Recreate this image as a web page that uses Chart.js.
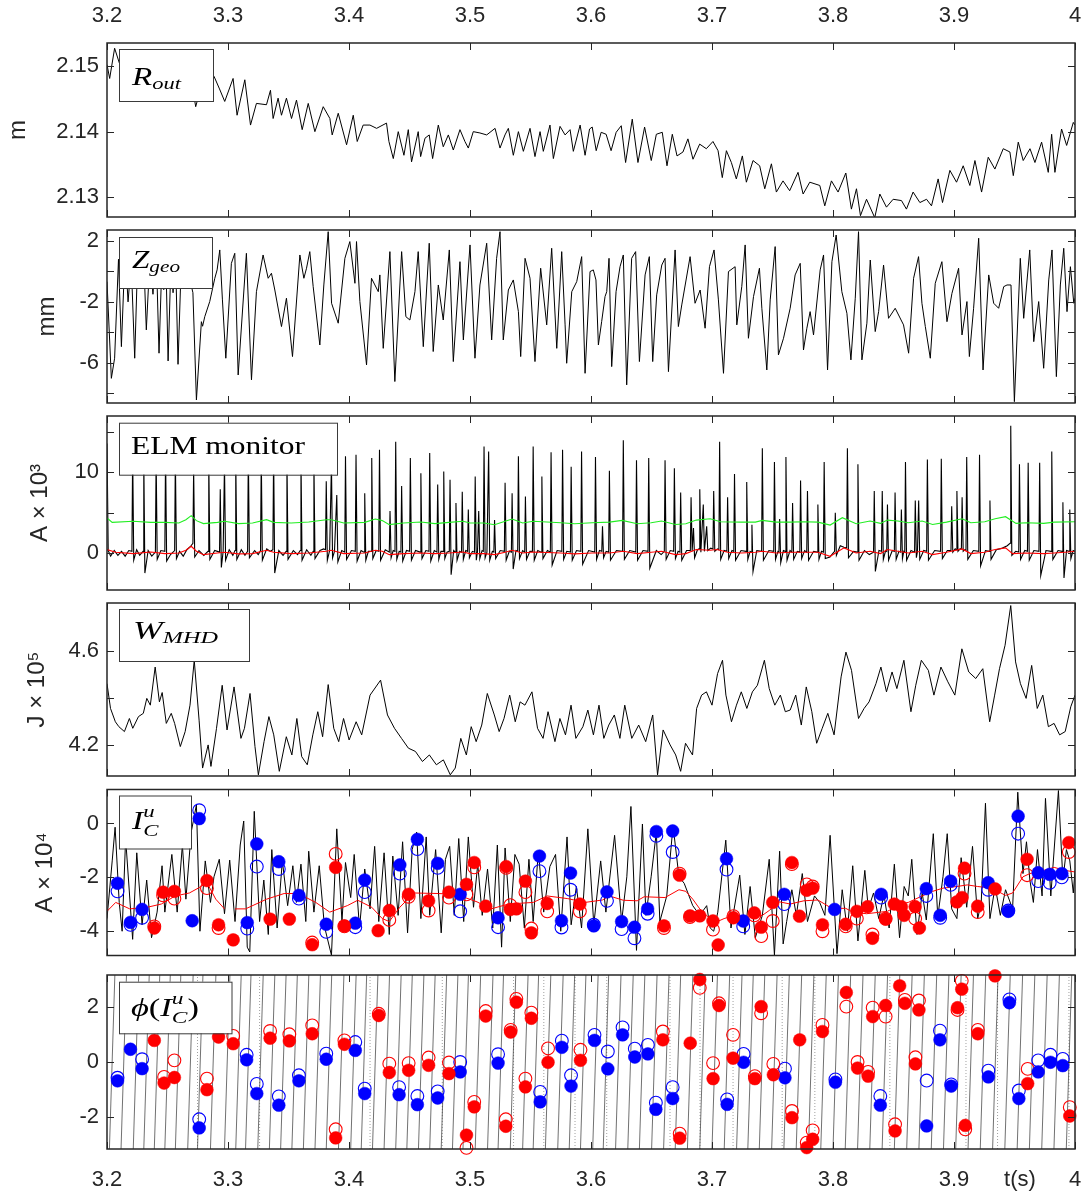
<!DOCTYPE html>
<html><head><meta charset="utf-8">
<script src="https://cdn.jsdelivr.net/npm/chart.js@4"></script>
<style>
body{margin:0;background:#fff;width:1090px;height:1203px;position:relative;overflow:hidden}
canvas{position:absolute;left:0}
</style></head><body>
<canvas id="c1" width="1090" height="218" style="top:0px"></canvas>
<canvas id="c2" width="1090" height="175" style="top:229px"></canvas>
<canvas id="c3" width="1090" height="176" style="top:415px"></canvas>
<canvas id="c4" width="1090" height="175" style="top:602px"></canvas>
<canvas id="c5" width="1090" height="181" style="top:782px"></canvas>
<canvas id="c6" width="1090" height="241" style="top:962px"></canvas>
<script>
// ---------- DATA (time in s) ----------
const xTicks = [3.2,3.3,3.4,3.5,3.6,3.7,3.8,3.9,4.0];

// R_out [t, m]
const rout = [3.2000,2.1502, 3.2022,2.1481, 3.2063,2.1527, 3.2110,2.1500, 3.2160,2.1470, 3.2210,2.1495, 3.2260,2.1465, 3.2310,2.1490, 3.2360,2.1468, 3.2410,2.1492, 3.2460,2.1462, 3.2510,2.1488, 3.2560,2.1458, 3.2610,2.1482, 3.2660,2.1455, 3.2700,2.1475, 3.2733,2.1438, 3.2780,2.1470, 3.2830,2.1455, 3.2885,2.1484, 3.2930,2.1465, 3.2973,2.1446, 3.3042,2.1481, 3.3075,2.1425, 3.3139,2.1479, 3.3186,2.1410, 3.3235,2.1443, 3.3318,2.1441, 3.3351,2.1463, 3.3373,2.1420, 3.3414,2.1451, 3.3442,2.1425, 3.3483,2.1451, 3.3525,2.1420, 3.3566,2.1448, 3.3613,2.1403, 3.3663,2.1443, 3.3718,2.1400, 3.3787,2.1438, 3.3842,2.1420, 3.3861,2.1395, 3.3911,2.1428, 3.3980,2.1380, 3.4035,2.1425, 3.4068,2.1385, 3.4117,2.1410, 3.4173,2.1410, 3.4228,2.1405, 3.4310,2.1413, 3.4330,2.1385, 3.4366,2.1359, 3.4407,2.1400, 3.4454,2.1364, 3.4490,2.1403, 3.4517,2.1354, 3.4572,2.1400, 3.4592,2.1362, 3.4628,2.1390, 3.4663,2.1395, 3.4691,2.1359, 3.4738,2.1410, 3.4779,2.1377, 3.4821,2.1395, 3.4862,2.1372, 3.4917,2.1403, 3.4958,2.1385, 3.4986,2.1375, 3.5027,2.1400, 3.5082,2.1398, 3.5138,2.1395, 3.5207,2.1405, 3.5248,2.1375, 3.5289,2.1395, 3.5317,2.1405, 3.5358,2.1364, 3.5400,2.1400, 3.5441,2.1370, 3.5496,2.1405, 3.5537,2.1362, 3.5579,2.1400, 3.5606,2.1370, 3.5661,2.1410, 3.5689,2.1359, 3.5744,2.1408, 3.5786,2.1395, 3.5827,2.1403, 3.5854,2.1370, 3.5910,2.1410, 3.5951,2.1364, 3.5988,2.1404, 3.6010,2.1407, 3.6043,2.1371, 3.6084,2.1399, 3.6125,2.1396, 3.6166,2.1371, 3.6208,2.1399, 3.6250,2.1409, 3.6286,2.1353, 3.6341,2.1419, 3.6388,2.1353, 3.6443,2.1407, 3.6498,2.1356, 3.6540,2.1396, 3.6589,2.1399, 3.6628,2.1348, 3.6672,2.1396, 3.6711,2.1363, 3.6760,2.1369, 3.6801,2.1389, 3.6843,2.1358, 3.6898,2.1381, 3.6953,2.1374, 3.7008,2.1385, 3.7050,2.1371, 3.7085,2.1330, 3.7119,2.1371, 3.7160,2.1353, 3.7201,2.1328, 3.7251,2.1363, 3.7284,2.1323, 3.7339,2.1356, 3.7394,2.1348, 3.7436,2.1313, 3.7491,2.1351, 3.7532,2.1308, 3.7587,2.1325, 3.7642,2.1310, 3.7711,2.1338, 3.7753,2.1305, 3.7808,2.1323, 3.7891,2.1318, 3.7932,2.1287, 3.7987,2.1325, 3.8042,2.1308, 3.8106,2.1337, 3.8152,2.1282, 3.8194,2.1313, 3.8227,2.1272, 3.8277,2.1297, 3.8345,2.1269, 3.8387,2.1305, 3.8442,2.1285, 3.8497,2.1297, 3.8566,2.1295, 3.8607,2.1282, 3.8662,2.1308, 3.8718,2.1292, 3.8773,2.1297, 3.8814,2.1287, 3.8869,2.1328, 3.8905,2.1292, 3.8966,2.1341, 3.9021,2.1323, 3.9076,2.1348, 3.9131,2.1318, 3.9173,2.1356, 3.9228,2.1308, 3.9283,2.1361, 3.9338,2.1343, 3.9407,2.1374, 3.9462,2.1369, 3.9490,2.1333, 3.9531,2.1384, 3.9572,2.1356, 3.9628,2.1374, 3.9669,2.1353, 3.9724,2.1384, 3.9779,2.1338, 3.9807,2.1396, 3.9834,2.1338, 3.9889,2.1404, 3.9931,2.1379, 3.9986,2.1414, 4.0000,2.1410];

// Z_geo [t, mm]
const zgeo = [3.2000,-0.67, 3.2036,-7.02, 3.2063,-5.70, 3.2095,0.8, 3.2119,-4.94, 3.2150,1.5, 3.2174,-2.0, 3.2200,0.6, 3.2229,-5.70, 3.2255,1.2, 3.2276,-1.0, 3.2300,1.6, 3.2325,-3.84, 3.2355,1.0, 3.2380,-1.5, 3.2405,1.8, 3.2430,-5.37, 3.2455,0.9, 3.2469,-1.2, 3.2485,1.3, 3.2505,-5.88, 3.2530,1.0, 3.2546,-1.4, 3.2565,1.5, 3.2587,-6.10, 3.2615,0.9, 3.2634,-0.9, 3.2660,1.2, 3.2684,-0.5, 3.2710,-1.4, 3.2739,-8.44, 3.2780,-3.30, 3.2790,-3.6, 3.2808,-2.97, 3.2849,-1.98, 3.2891,-0.45, 3.2910,0.10, 3.2932,1.41, 3.2954,-1.87, 3.2982,-5.70, 3.3028,0.53, 3.3056,1.19, 3.3084,-6.80, 3.3152,1.19, 3.3194,-7.12, 3.3235,-1.33, 3.3290,1.08, 3.3332,-0.45, 3.3359,-0.12, 3.3387,-1.22, 3.3442,-3.62, 3.3483,-1.76, 3.3533,-5.59, 3.3594,1.08, 3.3627,-0.45, 3.3649,0.21, 3.3676,1.30, 3.3704,-1.00, 3.3759,-4.83, 3.3792,-0.89, 3.3828,2.61, 3.3856,-2.09, 3.3911,-3.40, 3.3966,0.86, 3.4007,1.96, 3.4049,-0.78, 3.4062,1.96, 3.4090,-1.98, 3.4145,-6.14, 3.4186,-0.45, 3.4214,-0.89, 3.4242,-1.33, 3.4255,-0.23, 3.4283,-5.05, 3.4338,1.30, 3.4379,-7.23, 3.4435,1.30, 3.4470,-2.97, 3.4503,-3.19, 3.4545,-1.33, 3.4572,1.30, 3.4614,-4.94, 3.4663,1.85, 3.4696,-5.26, 3.4738,-0.89, 3.4779,-3.19, 3.4829,1.41, 3.4862,-5.92, 3.4917,0.64, 3.4945,-4.50, 3.5000,1.74, 3.5041,-5.70, 3.5082,-0.89, 3.5138,1.85, 3.5179,-4.50, 3.5220,0.86, 3.5248,2.61, 3.5275,-4.50, 3.5317,-1.22, 3.5358,-0.56, 3.5400,-2.64, 3.5419,-5.59, 3.5455,0.86, 3.5496,-0.45, 3.5537,-5.92, 3.5584,0.21, 3.5634,-3.51, 3.5675,1.52, 3.5717,-5.05, 3.5758,1.30, 3.5786,-3.51, 3.5799,-6.03, 3.5841,-1.33, 3.5882,-0.67, 3.5923,0.97, 3.5951,-6.69, 3.5992,-0.01, 3.6019,0.10, 3.6041,-0.56, 3.6061,-4.83, 3.6088,-3.30, 3.6116,-1.65, 3.6130,-1.33, 3.6149,0.86, 3.6171,-6.25, 3.6207,-1.33, 3.6240,0.31, 3.6267,1.08, 3.6295,-7.45, 3.6336,0.86, 3.6369,1.30, 3.6400,-5.92, 3.6447,-0.23, 3.6482,0.97, 3.6510,-5.92, 3.6543,-1.54, 3.6585,0.42, 3.6612,0.86, 3.6640,-6.58, 3.6695,1.41, 3.6722,-3.62, 3.6750,-2.20, 3.6819,0.97, 3.6860,-2.09, 3.6902,-1.22, 3.6943,-3.73, 3.6979,0.31, 3.7017,1.41, 3.7053,-1.87, 3.7095,-6.69, 3.7136,-0.01, 3.7191,0.31, 3.7205,-3.51, 3.7246,-1.00, 3.7274,1.74, 3.7301,-4.39, 3.7343,-1.65, 3.7392,0.21, 3.7412,-2.42, 3.7453,-6.47, 3.7481,-1.87, 3.7522,1.63, 3.7549,-5.48, 3.7591,-4.39, 3.7646,-2.42, 3.7687,-0.23, 3.7729,0.53, 3.7756,-5.16, 3.7784,-3.73, 3.7811,-2.64, 3.7839,-4.17, 3.7894,0.10, 3.7922,1.08, 3.7955,-6.47, 3.7991,0.64, 3.8026,2.39, 3.8073,-1.33, 3.8115,-2.75, 3.8148,-5.81, 3.8184,-1.76, 3.8211,2.61, 3.8239,-5.81, 3.8280,-3.40, 3.8308,0.75, 3.8349,-3.95, 3.8377,-2.64, 3.8418,0.42, 3.8459,-3.08, 3.8514,-2.42, 3.8583,-3.51, 3.8625,-5.37, 3.8666,-0.45, 3.8707,0.97, 3.8735,-2.09, 3.8763,-3.62, 3.8804,-5.70, 3.8845,-0.78, 3.8900,0.64, 3.8942,-3.30, 3.8983,-1.44, 3.9038,0.21, 3.9066,-4.17, 3.9107,-1.98, 3.9127,-5.59, 3.9162,-2.42, 3.9204,2.18, 3.9240,-6.47, 3.9287,-0.23, 3.9328,-2.09, 3.9369,-2.42, 3.9411,-1.00, 3.9438,-0.89, 3.9471,-0.89, 3.9499,-8.55, 3.9548,0.86, 3.9576,-3.08, 3.9626,1.41, 3.9659,-4.61, 3.9700,-1.98, 3.9741,-6.36, 3.9783,-0.56, 3.9810,1.41, 3.9846,-6.91, 3.9879,-0.89, 3.9907,1.52, 3.9934,-2.64, 3.9962,0.31, 3.9990,-2.09, 4.0000,-1.76];

// ELM monitor (black) [t, A x1e3]
const elmSignal = [3.2000,13.6, 3.2010,0.3, 3.2030,-0.4, 3.2060,0.3, 3.2090,-0.3, 3.2120,0.2, 3.2150,-0.4, 3.2180,0.3,
3.2206,0.2, 3.2212,12.5, 3.2221,-0.9, 3.2245,0.4, 3.2270,-0.3, 3.2298,0.2, 3.2304,12.0, 3.2313,-2.5, 3.2340,0.3, 3.2370,-0.4,
3.2400,0.1, 3.2406,12.0, 3.2415,-0.8, 3.2445,0.3, 3.2478,0.2, 3.2484,12.5, 3.2493,-1.0, 3.2525,-0.2,
3.2559,0.3, 3.2565,12.0, 3.2574,-0.7, 3.2600,0.2, 3.2630,-0.4, 3.2660,0.4, 3.2690,0.8,
3.2710,1.2, 3.2716,10.4, 3.2725,-0.5, 3.2760,0.3, 3.2800,-0.3, 3.2835,0.2, 3.2841,12.0, 3.2850,-0.8, 3.2890,0.3,
3.2930,0.1, 3.2936,7.9, 3.2945,-1.8, 3.2960,0.2, 3.2971,11.0, 3.2980,-0.9, 3.3010,0.4, 3.3040,-0.3,
3.3058,0.3, 3.3064,12.0, 3.3073,-0.8, 3.3110,0.4, 3.3140,-0.3, 3.3162,0.2, 3.3168,12.5, 3.3177,-0.6, 3.3220,0.3, 3.3250,-0.2,
3.3269,0.3, 3.3275,12.0, 3.3284,-0.9, 3.3320,0.5, 3.3350,0.2, 3.3371,0.4, 3.3377,12.5, 3.3386,-2.5, 3.3420,0.3, 3.3455,-0.3,
3.3481,0.2, 3.3487,12.0, 3.3496,-0.8, 3.3540,0.3, 3.3575,-0.2, 3.3597,0.3, 3.3603,12.0, 3.3612,-0.9, 3.3650,0.4, 3.3685,-0.3,
3.3704,0.2, 3.3710,11.5, 3.3719,-0.7, 3.3760,0.3, 3.3790,0.5, 3.3806,0.4, 3.3812,8.9, 3.3821,-0.9, 3.3840,0.3, 3.3855,11.0, 3.3864,-0.6, 3.3880,0.2, 3.3899,7.2, 3.3908,-1.1, 3.3940,0.3,
3.3965,0.1, 3.3971,12.0, 3.3980,-0.8, 3.4020,0.3, 3.4052,0.2, 3.4058,12.2, 3.4067,-1.0, 3.4100,0.3,
3.4124,0.1, 3.4130,7.4, 3.4139,-0.9, 3.4160,0.2, 3.4182,0.2, 3.4188,11.8, 3.4197,-0.7, 3.4225,0.3,
3.4246,0.2, 3.4252,12.8, 3.4261,-0.9, 3.4300,0.4, 3.4333,0.1, 3.4339,5.2, 3.4348,-0.6, 3.4365,0.3,
3.4380,0.2, 3.4386,13.8, 3.4395,-0.8, 3.4415,0.2, 3.4429,0.1, 3.4435,8.3, 3.4444,-1.0, 3.4475,0.3,
3.4501,0.2, 3.4507,11.8, 3.4516,-0.9, 3.4550,0.3, 3.4588,0.1, 3.4594,9.9, 3.4603,-0.7, 3.4635,0.3,
3.4661,0.2, 3.4667,12.4, 3.4676,-1.0, 3.4705,0.3, 3.4727,0.1, 3.4733,8.5, 3.4742,-0.8, 3.4760,0.2,
3.4777,0.2, 3.4783,10.1, 3.4792,-0.7, 3.4810,0.1, 3.4829,0.2, 3.4835,9.1, 3.4844,-2.7, 3.4865,0.3,
3.4878,0.1, 3.4884,6.2, 3.4893,-0.9, 3.4915,0.2, 3.4930,0.1, 3.4936,7.6, 3.4945,-0.8, 3.4965,0.3,
3.4980,0.2, 3.4986,5.4, 3.4995,-0.6, 3.5020,0.2, 3.5037,0.1, 3.5043,9.5, 3.5052,-0.9, 3.5062,0.2, 3.5072,5.2, 3.5081,-0.7, 3.5100,0.3,
3.5110,0.2, 3.5116,13.2, 3.5125,-0.6, 3.5140,0.1, 3.5154,12.6, 3.5163,-0.9, 3.5185,0.2,
3.5197,0.1, 3.5203,4.1, 3.5212,-0.7, 3.5250,0.3, 3.5284,0.2, 3.5290,8.7, 3.5299,-0.9, 3.5325,0.2,
3.5342,0.1, 3.5348,7.4, 3.5357,-2.0, 3.5380,0.3, 3.5394,0.2, 3.5400,12.0, 3.5409,-0.7, 3.5435,0.3,
3.5452,0.1, 3.5458,7.0, 3.5467,-0.8, 3.5495,0.2, 3.5516,0.2, 3.5522,13.2, 3.5531,-0.9, 3.5560,0.3,
3.5588,0.1, 3.5594,9.5, 3.5603,-0.7, 3.5640,0.3, 3.5664,0.1, 3.5670,12.5, 3.5679,-1.5, 3.5720,0.3,
3.5759,0.2, 3.5765,12.8, 3.5774,-0.8, 3.5800,0.2, 3.5830,0.1, 3.5836,10.7, 3.5845,-0.9, 3.5880,0.3,
3.5916,0.2, 3.5922,12.6, 3.5931,-1.4, 3.5980,0.3, 3.6031,0.1, 3.6037,11.9, 3.6046,-0.8, 3.6070,0.3,
3.6089,0.2, 3.6095,3.3, 3.6104,-0.6, 3.6125,0.2, 3.6146,0.1, 3.6152,10.2, 3.6161,-0.9, 3.6210,0.3,
3.6261,0.2, 3.6267,14.0, 3.6276,-0.8, 3.6320,0.3, 3.6370,0.1, 3.6376,11.5, 3.6385,-0.9, 3.6430,0.3,
3.6471,0.2, 3.6477,11.8, 3.6486,-1.9, 3.6540,0.3, 3.6580,-0.2, 3.6606,0.2, 3.6612,11.5, 3.6621,-0.8, 3.6655,0.3,
3.6683,0.2, 3.6689,10.5, 3.6698,-0.7, 3.6720,0.2, 3.6735,0.1, 3.6741,7.5, 3.6750,-0.9, 3.6790,0.3,
3.6821,0.3, 3.6827,6.9, 3.6836,0.2, 3.6847,3.1, 3.6856,-0.6, 3.6880,0.4,
3.6893,0.5, 3.6899,7.9, 3.6908,0.1, 3.6928,6.0, 3.6937,0.2, 3.6956,3.3, 3.6965,0.3, 3.6990,0.6,
3.7008,0.5, 3.7014,7.7, 3.7023,0.2, 3.7045,0.5, 3.7057,0.4, 3.7063,13.8, 3.7072,-0.8, 3.7100,0.3,
3.7123,0.2, 3.7129,6.9, 3.7138,-0.7, 3.7165,0.3, 3.7180,0.2, 3.7186,9.8, 3.7195,-0.9, 3.7240,0.3,
3.7281,0.2, 3.7287,8.8, 3.7296,-0.8, 3.7315,0.2, 3.7324,0.1, 3.7330,3.5, 3.7339,-2.3, 3.7370,0.3,
3.7410,0.2, 3.7416,13.0, 3.7425,-0.9, 3.7470,0.3, 3.7510,0.2, 3.7516,11.3, 3.7525,-0.8, 3.7545,0.2,
3.7553,0.1, 3.7559,4.2, 3.7568,-1.2, 3.7590,0.3, 3.7605,0.2, 3.7611,11.9, 3.7620,-0.9, 3.7645,0.3,
3.7660,0.1, 3.7666,6.2, 3.7675,-0.8, 3.7705,0.2, 3.7726,0.1, 3.7732,9.0, 3.7741,-0.7, 3.7765,0.3,
3.7783,0.1, 3.7789,7.7, 3.7798,-0.9, 3.7840,0.2, 3.7869,0.1, 3.7875,6.0, 3.7884,-0.8, 3.7905,0.2,
3.7921,0.1, 3.7927,11.3, 3.7936,-0.7, 3.7975,-0.5, 3.8013,0.2, 3.8019,5.0, 3.8028,-0.3, 3.8060,0.9, 3.8090,0.7,
3.8113,0.6, 3.8119,13.0, 3.8128,-0.6, 3.8170,0.2, 3.8200,0.1, 3.8206,11.0, 3.8215,-0.9, 3.8260,0.3, 3.8300,-0.2,
3.8335,0.1, 3.8341,7.7, 3.8350,-2.3, 3.8380,0.3, 3.8401,0.2, 3.8407,7.7, 3.8416,-0.8, 3.8435,0.3,
3.8444,0.2, 3.8450,6.0, 3.8459,-0.9, 3.8490,0.3, 3.8507,0.2, 3.8513,7.5, 3.8522,-0.8, 3.8545,0.2,
3.8559,0.1, 3.8565,5.4, 3.8574,-0.7, 3.8585,0.2, 3.8593,0.1, 3.8599,11.3, 3.8608,-0.9, 3.8645,0.3,
3.8674,0.1, 3.8680,6.5, 3.8689,-0.6, 3.8698,0.2, 3.8708,6.5, 3.8717,-0.8, 3.8750,0.3,
3.8774,0.2, 3.8780,11.6, 3.8789,-0.9, 3.8840,0.3, 3.8889,0.2, 3.8895,11.7, 3.8904,-0.7, 3.8945,0.3,
3.8975,0.3, 3.8981,5.8, 3.8990,0.1, 3.9010,0.5, 3.9018,0.4, 3.9024,7.7, 3.9033,0.2, 3.9050,0.5,
3.9061,0.5, 3.9067,6.9, 3.9076,0.2, 3.9090,0.4, 3.9099,0.3, 3.9105,11.9, 3.9114,-0.8, 3.9160,0.3,
3.9205,0.2, 3.9211,12.2, 3.9220,-1.6, 3.9260,0.3, 3.9291,0.2, 3.9297,6.5, 3.9306,-0.8, 3.9350,0.4, 3.9400,0.6, 3.9440,0.9,
3.9463,1.2, 3.9469,15.8, 3.9478,-0.3, 3.9510,0.2, 3.9535,0.1, 3.9541,11.0, 3.9550,-0.8, 3.9585,0.3,
3.9607,0.2, 3.9613,11.2, 3.9622,-0.9, 3.9660,0.3, 3.9702,0.2, 3.9708,11.2, 3.9717,-2.8, 3.9760,0.3,
3.9802,0.2, 3.9808,12.6, 3.9817,-0.8, 3.9860,0.3, 3.9894,0.2, 3.9900,6.3, 3.9909,-3.1, 3.9930,0.3,
3.9951,0.2, 3.9957,5.4, 3.9966,-0.7, 3.9985,0.3, 4.0000,0.2];

// ELM red (smoothed) and green (threshold) lines
const elmRed = [3.2000,0.41, 3.2072,0.08, 3.2217,-0.08, 3.2362,0.12, 3.2478,-0.08, 3.2594,0.0, 3.2652,0.33, 3.2696,0.83, 3.2739,0.21, 3.2797,-0.21, 3.2913,0.0, 3.2971,0.08, 3.3087,-0.12, 3.3203,-0.08, 3.3319,0.33, 3.3377,0.08, 3.3522,-0.08, 3.3667,0.0, 3.3812,0.21, 3.3855,0.33, 3.3957,-0.08, 3.4130,0.0, 3.4217,0.33, 3.4275,0.21, 3.4333,-0.21, 3.4449,-0.08, 3.4594,0.0, 3.4710,-0.08, 3.4826,0.0, 3.4942,0.12, 3.5000,-0.08, 3.5116,-0.08, 3.5203,-0.21, 3.5290,0.08, 3.5348,0.33, 3.5435,0.0, 3.5522,0.12, 3.5750,0.0, 3.5865,-0.12, 3.6009,0.0, 3.6152,0.0, 3.6267,0.21, 3.6382,-0.08, 3.6497,0.08, 3.6583,0.21, 3.6698,-0.21, 3.6784,-0.08, 3.6870,0.42, 3.6985,0.33, 3.7042,0.42, 3.7129,0.08, 3.7244,0.0, 3.7358,0.08, 3.7416,0.21, 3.7531,0.0, 3.7646,0.08, 3.7760,0.08, 3.7875,0.08, 3.7976,-0.42, 3.8091,0.63, 3.8191,0.0, 3.8306,0.21, 3.8392,-0.08, 3.8450,0.42, 3.8536,0.21, 3.8622,0.0, 3.8737,0.21, 3.8823,-0.21, 3.8938,0.08, 3.9067,0.5, 3.9139,-0.08, 3.9254,0.08, 3.9340,0.42, 3.9426,0.63, 3.9484,-0.08, 3.9598,0.0, 3.9742,-0.08, 3.9828,0.0, 3.9943,0.12, 4.0000,0.21];
const elmGreen = [3.2000,4.34, 3.2043,3.80, 3.2217,3.93, 3.2362,3.80, 3.2478,3.80, 3.2594,3.72, 3.2652,4.13, 3.2696,4.63, 3.2739,4.01, 3.2797,3.64, 3.2913,3.80, 3.2971,3.93, 3.3087,3.64, 3.3203,3.72, 3.3319,4.13, 3.3377,3.80, 3.3522,3.72, 3.3667,3.84, 3.3812,4.13, 3.3855,4.13, 3.3957,3.72, 3.4130,3.80, 3.4217,4.21, 3.4275,4.01, 3.4333,3.51, 3.4449,3.72, 3.4594,3.84, 3.4710,3.64, 3.4826,3.80, 3.4942,3.93, 3.5000,3.72, 3.5116,3.72, 3.5203,3.51, 3.5290,3.93, 3.5348,4.21, 3.5435,3.72, 3.5522,3.93, 3.5750,3.75, 3.5865,3.63, 3.6009,3.75, 3.6152,3.83, 3.6257,4.04, 3.6382,3.63, 3.6497,3.75, 3.6583,3.96, 3.6698,3.54, 3.6784,3.63, 3.6870,4.08, 3.6985,4.25, 3.7071,3.88, 3.7244,3.83, 3.7358,3.83, 3.7416,4.04, 3.7531,3.83, 3.7646,3.83, 3.7760,3.88, 3.7875,3.83, 3.7976,3.46, 3.8077,4.38, 3.8191,3.63, 3.8306,3.96, 3.8392,3.67, 3.8450,4.08, 3.8536,3.96, 3.8622,3.75, 3.8737,3.96, 3.8823,3.54, 3.8938,3.83, 3.9067,4.25, 3.9139,3.75, 3.9254,3.88, 3.9340,4.25, 3.9426,4.50, 3.9513,3.67, 3.9598,3.75, 3.9742,3.67, 3.9828,3.83, 4.0000,3.88];

// W_MHD [t, J x1e5]
const wmhd = [3.2000,4.462, 3.2029,4.356, 3.2069,4.299, 3.2098,4.278, 3.2144,4.257, 3.2185,4.313, 3.2213,4.271, 3.2260,4.321, 3.2300,4.335, 3.2329,4.399, 3.2358,4.370, 3.2398,4.533, 3.2433,4.384, 3.2456,4.424, 3.2490,4.292, 3.2531,4.335, 3.2559,4.292, 3.2606,4.193, 3.2646,4.257, 3.2686,4.370, 3.2721,4.562, 3.2761,4.306, 3.2790,4.101, 3.2836,4.200, 3.2859,4.108, 3.2905,4.271, 3.2952,4.455, 3.2992,4.264, 3.3050,4.448, 3.3107,4.228, 3.3136,4.271, 3.3182,4.420, 3.3223,4.193, 3.3251,4.072, 3.3298,4.214, 3.3338,4.321, 3.3378,4.243, 3.3424,4.087, 3.3482,4.235, 3.3528,4.157, 3.3569,4.313, 3.3609,4.150, 3.3655,4.115, 3.3701,4.243, 3.3742,4.342, 3.3782,4.235, 3.3828,4.458, 3.3874,4.271, 3.3915,4.214, 3.3955,4.313, 3.4001,4.221, 3.4059,4.299, 3.4105,4.243, 3.4174,4.413, 3.4261,4.477, 3.4318,4.328, 3.4376,4.271, 3.4434,4.228, 3.4491,4.186, 3.4549,4.172, 3.4607,4.129, 3.4664,4.157, 3.4722,4.115, 3.4780,4.136, 3.4837,4.072, 3.4878,4.101, 3.4924,4.228, 3.4970,4.157, 3.5010,4.278, 3.5051,4.214, 3.5097,4.285, 3.5143,4.420, 3.5201,4.328, 3.5241,4.257, 3.5281,4.313, 3.5328,4.413, 3.5374,4.299, 3.5414,4.384, 3.5454,4.370, 3.5512,4.427, 3.5558,4.271, 3.5604,4.228, 3.5645,4.342, 3.5702,4.214, 3.5743,4.313, 3.5789,4.243, 3.5835,4.370, 3.5875,4.228, 3.5933,4.278, 3.5974,4.349, 3.6020,4.243, 3.6066,4.370, 3.6106,4.228, 3.6147,4.285, 3.6193,4.328, 3.6239,4.228, 3.6279,4.370, 3.6337,4.228, 3.6394,4.285, 3.6452,4.214, 3.6510,4.328, 3.6550,4.072, 3.6596,4.264, 3.6654,4.200, 3.6700,4.157, 3.6741,4.087, 3.6781,4.207, 3.6839,4.157, 3.6873,4.356, 3.6914,4.413, 3.6954,4.427, 3.7000,4.370, 3.7046,4.505, 3.7087,4.562, 3.7115,4.413, 3.7161,4.299, 3.7202,4.370, 3.7242,4.427, 3.7288,4.356, 3.7334,4.427, 3.7375,4.455, 3.7433,4.562, 3.7473,4.441, 3.7519,4.370, 3.7565,4.413, 3.7606,4.342, 3.7646,4.349, 3.7692,4.413, 3.7738,4.285, 3.7779,4.448, 3.7825,4.342, 3.7865,4.207, 3.7911,4.271, 3.7957,4.335, 3.8009,4.243, 3.8067,4.491, 3.8107,4.597, 3.8153,4.519, 3.8211,4.313, 3.8257,4.356, 3.8298,4.384, 3.8355,4.462, 3.8396,4.533, 3.8442,4.427, 3.8488,4.512, 3.8528,4.441, 3.8586,4.562, 3.8644,4.342, 3.8684,4.455, 3.8730,4.562, 3.8788,4.519, 3.8834,4.413, 3.8892,4.533, 3.8949,4.470, 3.9007,4.413, 3.9065,4.611, 3.9122,4.512, 3.9180,4.484, 3.9238,4.526, 3.9295,4.299, 3.9336,4.413, 3.9376,4.526, 3.9422,4.626, 3.9469,4.796, 3.9509,4.555, 3.9549,4.462, 3.9596,4.399, 3.9642,4.540, 3.9688,4.356, 3.9734,4.413, 3.9780,4.278, 3.9827,4.292, 3.9873,4.243, 3.9919,4.257, 3.9965,4.363, 4.0000,4.413];

// I_C^u (black) [t, A x1e4]
const icSignal = [3.2000,-3.53, 3.2043,-1.39, 3.2067,-0.14, 3.2101,-2.93, 3.2125,-4.00, 3.2154,-0.56, 3.2212,-4.30, 3.2246,-1.09, 3.2290,-3.76, 3.2328,-2.10, 3.2368,-4.24, 3.2414,-3.29, 3.2455,-1.57, 3.2478,-3.29, 3.2536,-1.15, 3.2580,-3.29, 3.2623,-0.80, 3.2652,-2.81, 3.2696,-0.32, 3.2739,0.69, 3.2768,-4.00, 3.2812,-1.39, 3.2855,-2.93, 3.2884,-1.98, 3.2928,-1.33, 3.2971,-3.35, 3.3014,-1.36, 3.3058,-3.64, 3.3101,-0.80, 3.3130,0.09, 3.3159,-4.59, 3.3180,-4.77, 3.3217,0.45, 3.3261,-3.64, 3.3296,-2.10, 3.3333,-4.12, 3.3362,-0.97, 3.3406,-3.88, 3.3449,-1.39, 3.3493,-3.05, 3.3536,-1.57, 3.3565,-2.93, 3.3603,-1.51, 3.3643,-3.64, 3.3667,-1.03, 3.3710,-3.29, 3.3754,-1.57, 3.3797,-3.82, 3.3855,-4.89, 3.3899,-0.20, 3.3942,-3.64, 3.3971,-1.45, 3.4014,-2.75, 3.4043,-1.15, 3.4087,-3.88, 3.4130,-1.69, 3.4174,-3.17, 3.4212,-0.85, 3.4246,-3.64, 3.4290,-1.09, 3.4333,-4.12, 3.4362,-1.21, 3.4406,-3.41, 3.4443,-0.68, 3.4484,-4.06, 3.4522,-0.97, 3.4559,-0.32, 3.4594,-3.53, 3.4638,-0.50, 3.4667,-3.41, 3.4716,-0.97, 3.4762,-4.06, 3.4797,-1.33, 3.4832,-0.85, 3.4870,-3.41, 3.4907,-0.56, 3.4948,-3.64, 3.4986,-0.50, 3.5029,-3.11, 3.5064,-1.51, 3.5101,-3.41, 3.5145,-1.69, 3.5188,-3.88, 3.5226,-0.80, 3.5261,-4.59, 3.5290,-0.91, 3.5333,-3.64, 3.5371,-1.15, 3.5406,-1.51, 3.5449,-3.88, 3.5487,-1.33, 3.5522,-3.64, 3.5565,-1.03, 3.5609,-3.29, 3.5660,-1.60, 3.5707,-1.15, 3.5750,-4.00, 3.5802,-0.50, 3.5836,-3.76, 3.5879,-2.34, 3.5922,-3.88, 3.5974,-0.20, 3.6023,-3.76, 3.6080,-1.39, 3.6123,-3.29, 3.6195,-0.44, 3.6253,-3.64, 3.6296,-1.98, 3.6330,0.63, 3.6376,-4.71, 3.6425,-0.02, 3.6454,-3.41, 3.6497,-1.98, 3.6540,-0.32, 3.6569,-3.64, 3.6626,-2.69, 3.6678,-0.08, 3.6727,-1.98, 3.6770,-2.22, 3.6841,-3.05, 3.6899,-3.41, 3.6956,-3.05, 3.6985,-3.88, 3.7014,-4.00, 3.7048,-3.29, 3.7114,-0.62, 3.7157,-3.88, 3.7229,-1.92, 3.7272,-4.12, 3.7315,-2.34, 3.7358,-4.24, 3.7416,-3.41, 3.7473,-1.33, 3.7516,-4.89, 3.7559,-1.03, 3.7588,-4.47, 3.7617,-3.64, 3.7660,-2.46, 3.7697,-3.41, 3.7746,-1.86, 3.7789,-3.64, 3.7847,-2.69, 3.7890,-2.93, 3.7933,-3.41, 3.7976,-0.44, 3.8033,-4.83, 3.8076,-2.46, 3.8119,-4.00, 3.8163,-1.57, 3.8206,-4.36, 3.8263,-1.74, 3.8292,-3.17, 3.8335,-2.58, 3.8378,-3.53, 3.8421,-2.64, 3.8464,-3.88, 3.8507,-1.51, 3.8550,-4.24, 3.8588,-2.34, 3.8622,-2.69, 3.8651,-1.33, 3.8694,-4.12, 3.8737,-2.58, 3.8771,-3.58, 3.8829,-0.38, 3.8866,-3.47, 3.8909,-1.98, 3.8944,-0.38, 3.8981,-3.17, 3.9024,-3.53, 3.9059,-1.27, 3.9105,-3.11, 3.9153,-0.85, 3.9196,-3.53, 3.9225,-2.93, 3.9260,0.75, 3.9297,-3.53, 3.9340,-2.34, 3.9383,-3.41, 3.9426,-2.46, 3.9484,-3.17, 3.9527,1.16, 3.9570,-1.86, 3.9599,-0.68, 3.9627,-2.10, 3.9656,-2.93, 3.9690,-0.97, 3.9728,-2.69, 3.9756,0.93, 3.9800,-2.69, 3.9863,1.22, 3.9900,-2.10, 3.9929,-0.97, 3.9957,-1.39, 3.9986,-2.58, 4.0000,-1.74];
// I_C^u red smoothed line (null = gap)
const icRedLine = [3.2000,-3.26, 3.2072,-2.93, 3.2188,-3.17, 3.2333,-3.11, 3.2449,-2.99, 3.2565,-2.69, 3.2681,-2.58, 3.2754,-2.40, 3.2826,-2.20, 3.2899,-2.81, 3.2971,-3.17, 3.3000,null, 3.3058,-3.17, 3.3145,-3.17, 3.3319,-2.81, 3.3464,-2.60, 3.3580,-2.60, 3.3725,-2.93, 3.3841,-3.29, 3.3986,-3.05, 3.4072,-2.85, 3.4188,-3.11, 3.4275,-3.53, 3.4333,-3.64, 3.4420,-3.11, 3.4536,-2.58, 3.4739,-2.60, 3.4884,-2.63, 3.5058,-2.91, 3.5174,-3.17, 3.5319,-2.99, 3.5522,-2.93, 3.5638,-2.69, 3.5808,-2.79, 3.5951,-2.93, 3.6095,-2.84, 3.6152,-2.69, 3.6267,-2.85, 3.6382,-2.87, 3.6439,-2.72, 3.6612,-2.75, 3.6727,-2.46, 3.6784,-2.52, 3.6841,-2.81, 3.6899,-3.17, 3.6956,-3.41, 3.7014,-3.70, 3.7100,-3.53, 3.7186,-3.41, 3.7301,-3.47, 3.7416,-3.41, 3.7473,-3.23, 3.7559,-2.91, 3.7646,-2.99, 3.7760,-2.87, 3.7875,-2.84, 3.7990,-3.15, 3.8105,-3.15, 3.8163,-3.29, 3.8277,-3.35, 3.8450,-3.26, 3.8565,-2.99, 3.8622,-2.93, 3.8737,-2.69, 3.8823,-2.52, 3.8909,-2.40, 3.9024,-2.34, 3.9110,-2.28, 3.9196,-2.34, 3.9311,-2.40, 3.9426,-2.67, 3.9484,-2.58, 3.9570,-1.98, 3.9627,-1.86, 3.9742,-1.74, 3.9828,-1.63, 3.9914,-1.74, 4.0000,-1.80];

// I_C^u markers (filled = measured, open = fitted)
const p5BlueT = [3.2087,3.2194,3.2290,3.2704,3.2762,3.3159,3.3238,3.3420,3.3586,3.3812,3.4052,3.4130,3.4420,3.4565,3.4733,3.4919,3.5232,3.5574,3.5756,3.5831,3.6023,3.6132,3.6253,3.6359,3.6468,3.6540,3.6675,3.7120,3.7258,3.7597,3.8013,3.8398,3.8771,3.8886,3.8972,3.9283,3.9449,3.9530,3.9696,3.9791,3.9891];
const p5BlueFilled = [-2.22,-3.67,-3.19,-3.61,0.18,-3.68,-0.76,-1.42,-2.67,-3.74,-3.70,-2.10,-1.54,-0.59,-1.48,-2.63,-3.50,-1.21,-3.61,-1.84,-3.80,-2.54,-3.64,-3.85,-3.17,-0.30,-0.28,-1.31,-3.62,-2.63,-3.19,-2.63,-2.42,-3.41,-2.14,-2.20,-3.26,0.27,-1.83,-1.89,-1.86];
const p5BlueOpen = [-2.52,-3.76,-3.50,null,0.49,-3.90,-1.60,-1.69,-2.79,-4.02,-3.85,-2.55,-1.86,-0.95,-1.65,-3.26,-3.85,-1.77,-3.86,-2.46,-3.76,-2.87,-3.92,-4.26,-3.35,-0.46,-1.06,-1.71,-3.82,-2.99,null,-2.75,-2.69,-3.50,-2.28,-2.46,-3.23,-0.38,-2.14,-2.20,-2.00];
const p5RedT = [3.2391,3.2464,3.2557,3.2826,3.2922,3.3043,3.3348,3.3507,3.3696,3.3890,3.3962,3.4241,3.4333,3.4493,3.4658,3.4826,3.4971,3.5035,3.5130,3.5299,3.5333,3.5383,3.5458,3.5507,3.5638,3.5908,3.6603,3.6732,3.6818,3.6899,3.7008,3.7051,3.7177,3.7350,3.7407,3.7502,3.7660,3.7723,3.7783,3.7832,3.7913,3.8105,3.8197,3.8286,3.8326,3.8435,3.8507,3.8565,3.8588,3.8679,3.8714,3.9024,3.9067,3.9087,3.9196,3.9340,3.9604,3.9949];
const p5RedFilled = [-3.88,-2.55,-2.52,-2.12,-3.76,-4.32,-3.55,-3.55,-4.50,-1.63,-3.80,-3.98,-3.23,-2.63,-2.87,-2.55,-2.26,-1.45,-3.07,-1.60,-3.19,-3.17,-2.14,-4.06,-2.97,-2.99,-3.80,-1.92,-3.43,-3.43,-3.62,-4.51,-3.50,-3.32,-3.85,-2.93,-1.45,-3.44,-2.48,-2.40,-3.76,-3.74,-3.26,-3.09,-4.26,-3.55,-2.99,-3.09,-3.41,-3.09,-3.88,-2.91,-2.75,-1.66,-3.07,-2.43,-1.33,-0.71];
const p5RedOpen = [-3.82,-2.67,-2.79,-2.40,-3.88,null,null,null,-4.42,-1.13,-3.82,null,-3.58,-2.72,-3.23,-2.75,-2.63,-1.63,null,-1.65,-3.03,null,-2.55,-3.90,-3.26,-3.26,-3.88,-1.86,-3.47,null,-3.94,null,-3.44,-3.41,-4.18,-3.62,-1.51,null,-2.26,-2.34,-4.00,-3.82,-3.53,null,-4.12,-3.53,null,null,null,-3.53,null,null,null,-1.86,-3.29,null,-1.92,-1.06];

// phase of I_C^u markers
const p6BlueT = [3.2087,3.2194,3.2290,3.2762,3.3154,3.3238,3.3420,3.3586,3.3812,3.4052,3.4130,3.4414,3.4565,3.4733,3.4919,3.5232,3.5580,3.5759,3.5835,3.6029,3.6139,3.6261,3.6362,3.6470,3.6536,3.6675,3.7125,3.7261,3.7603,3.8020,3.8391,3.8774,3.8884,3.8977,3.9284,3.9458,3.9536,3.9696,3.9797,3.9899];
const p6BlueFilled = [-0.68,0.46,-0.24,-2.38,0.08,-1.14,-1.56,-0.68,0.10,0.42,-1.14,-1.18,-1.54,-1.30,-0.36,-0.04,-1.44,0.53,-0.87,0.78,-0.25,0.98,0.18,0.29,-1.71,-1.32,-1.53,-0.01,-0.57,-0.73,-1.56,-2.31,0.80,-0.87,-0.54,2.14,-1.32,-0.36,-0.01,-0.13];
const p6BlueOpen = [-0.57,null,0.10,-2.07,0.26,-0.79,-1.24,-0.48,0.30,0.72,-0.96,-0.91,-1.23,-1.06,0.00,0.28,-1.08,0.77,-0.48,0.98,0.38,1.25,0.48,0.62,-1.47,-0.91,-1.35,0.29,-0.24,-0.63,-1.23,-0.67,1.13,-0.81,-0.31,2.26,-1.03,0.06,0.26,0.11];
const p6RedT = [3.2391,3.2472,3.2557,3.2826,3.2922,3.3043,3.3348,3.3507,3.3696,3.3890,3.3962,3.4246,3.4333,3.4493,3.4658,3.4826,3.4971,3.5035,3.5130,3.5296,3.5336,3.5383,3.5458,3.5507,3.5645,3.5913,3.6594,3.6733,3.6820,3.6899,3.7009,3.7058,3.7174,3.7354,3.7406,3.7507,3.7661,3.7725,3.7783,3.7832,3.7913,3.8110,3.8203,3.8290,3.8328,3.8435,3.8513,3.8551,3.8594,3.8681,3.8710,3.9029,3.9064,3.9093,3.9197,3.9339,3.9609,3.9957];
const p6RedFilled = [0.78,-0.76,-0.56,-1.00,0.90,0.66,0.86,0.76,1.02,-2.74,0.64,1.68,-0.38,-0.30,-0.12,-0.42,-2.64,-1.62,1.66,-2.32,1.08,2.16,-0.90,1.58,-0.01,0.06,0.80,-2.75,0.68,2.98,-0.60,2.04,0.14,-0.60,2.00,-0.46,-2.01,0.80,-3.09,-2.79,1.10,2.51,-0.22,-0.51,1.64,2.04,-2.49,2.75,2.12,-0.07,1.88,1.96,2.63,-2.29,1.02,3.11,-0.78,-1.95];
const p6RedOpen = [null,-0.54,0.06,-0.60,null,0.94,1.12,1.00,1.32,-2.43,0.78,1.74,-0.06,-0.04,0.16,-0.02,-3.10,-1.44,1.84,-2.07,1.16,2.28,-0.60,1.78,0.49,0.44,1.10,-2.59,null,2.68,-0.04,2.12,0.98,-0.51,1.76,-0.07,-1.77,null,-2.91,-2.47,1.34,2.00,0.00,-0.36,1.96,1.64,-2.25,null,2.24,0.17,2.22,1.88,2.93,-2.43,1.16,null,-0.25,-1.63];

// phase ramps of the rotating signal: [time at -pi, time at +pi]
const phaseRamps = [3.2020,3.2065, 3.2116,3.2161, 3.2217,3.2262, 3.2304,3.2349, 3.2391,3.2436, 3.2478,3.2523, 3.2565,3.2610, 3.2667,3.2712, 3.2748,3.2793, 3.2855,3.2900, 3.2971,3.3016, 3.3064,3.3109, 3.3145,3.3190, 3.3246,3.3291, 3.3342,3.3387, 3.3435,3.3480, 3.3528,3.3573, 3.3623,3.3668, 3.3719,3.3764, 3.3812,3.3857, 3.3913,3.3958, 3.4014,3.4059, 3.4101,3.4146, 3.4194,3.4239, 3.4290,3.4335, 3.4386,3.4431, 3.4478,3.4523, 3.4574,3.4619, 3.4667,3.4712, 3.4762,3.4807, 3.4855,3.4900, 3.4942,3.4987, 3.5043,3.5088, 3.5145,3.5190, 3.5232,3.5277, 3.5333,3.5378, 3.5435,3.5480, 3.5522,3.5567, 3.5623,3.5668, 3.5725,3.5770, 3.5820,3.5865, 3.5913,3.5958, 3.6014,3.6059, 3.6101,3.6146, 3.6203,3.6248, 3.6304,3.6349, 3.6400,3.6445, 3.6501,3.6546, 3.6600,3.6645, 3.6696,3.6741, 3.6797,3.6842, 3.6899,3.6944, 3.7000,3.7045, 3.7101,3.7146, 3.7203,3.7248, 3.7296,3.7341, 3.7391,3.7436, 3.7493,3.7538, 3.7594,3.7639, 3.7696,3.7741, 3.7797,3.7842, 3.7899,3.7944, 3.8000,3.8045, 3.8101,3.8146, 3.8203,3.8248, 3.8304,3.8349, 3.8406,3.8451, 3.8507,3.8552, 3.8609,3.8654, 3.8710,3.8755, 3.8812,3.8857, 3.8913,3.8958, 3.9014,3.9059, 3.9116,3.9161, 3.9217,3.9262, 3.9319,3.9364, 3.9420,3.9465, 3.9522,3.9567, 3.9623,3.9668, 3.9725,3.9770, 3.9826,3.9871, 3.9928,3.9973];
const phaseDotT = [3.2748,3.3261,3.4174,3.4771,3.5360,3.5610,3.5868,3.6130,3.6653,3.6901,3.7174,3.7580,3.7850,3.8470,3.9099,3.9360,3.9950];
const PHI_MIN = -3.1416, PHI_MAX = 3.1416;

// ---------- helpers ----------
Chart.defaults.font.family = "'Liberation Sans', Arial, sans-serif";
Chart.defaults.color = '#262626';
const pairs = f => { const o=[]; for (let i=0;i<f.length;i+=2) o.push({x:f[i], y:f[i+1]}); return o; };
const pts = (ts, vs) => { const o=[]; ts.forEach((t,i)=>{ if (vs[i]!==null) o.push({x:t, y:vs[i]}); }); return o; };
const lineDs = (data, color, width, order) => ({data, showLine:true, borderColor:color, borderWidth:width, pointRadius:0, pointHoverRadius:0, tension:0, order, spanGaps:false});
const dotDs = (data, color, filled, order) => ({data, showLine:false, pointRadius:6.4, pointHoverRadius:6.4,
  pointBackgroundColor: filled ? color : 'rgba(0,0,0,0)', backgroundColor: filled ? color : 'rgba(0,0,0,0)',
  pointBorderColor: color, borderColor: color, pointBorderWidth: filled ? 0.5 : 1.1, order, clip:false});

const rampData = []; for (let i=0;i<phaseRamps.length;i+=2){ rampData.push({x:phaseRamps[i],y:PHI_MIN},{x:phaseRamps[i+1],y:PHI_MAX},{x:phaseRamps[i+1],y:null}); }
const dotLineData = []; phaseDotT.forEach(t=>{ dotLineData.push({x:t,y:PHI_MIN},{x:t,y:PHI_MAX},{x:t,y:null}); });

const SERIF = "'Liberation Serif','Times New Roman',serif";
const it = s => 'italic ' + s + 'px ' + SERIF;
const rm = s => s + 'px ' + SERIF;

const decorCfg = {};
function drawRich(ctx, x, y, parts, w) {
  let total = 0;
  parts.forEach(p => { ctx.font = p.f; p.w = ctx.measureText(p.t).width; if (!p.stack) total += p.w; });
  const sx = w / total;
  ctx.save(); ctx.translate(x, y); ctx.scale(sx, 1);
  ctx.fillStyle = '#000'; ctx.textBaseline = 'alphabetic'; ctx.textAlign = 'left';
  let cx = 0;
  parts.forEach(p => { ctx.font = p.f; ctx.fillText(p.t, cx, p.dy || 0); if (!p.stack) cx += p.w; });
  ctx.restore();
}
const decor = {
  id: 'decor',
  afterDatasetsDraw(chart) {
    const c = decorCfg[chart.canvas.id];
    const {ctx, chartArea: a} = chart; const xs = chart.scales.x, ys = chart.scales.y;
    ctx.save();
    ctx.strokeStyle = '#262626'; ctx.lineWidth = 1; ctx.beginPath();
    const tl = 7;
    xTicks.forEach(v => { const p = Math.round(xs.getPixelForValue(v)) + 0.5; ctx.moveTo(p, a.top); ctx.lineTo(p, a.top + tl); ctx.moveTo(p, a.bottom); ctx.lineTo(p, a.bottom - tl); });
    c.yTicks.forEach(v => { const p = Math.round(ys.getPixelForValue(v)) + 0.5; ctx.moveTo(a.left, p); ctx.lineTo(a.left + tl, p); ctx.moveTo(a.right, p); ctx.lineTo(a.right - tl, p); });
    ctx.stroke();
    ctx.lineWidth = 1.5; ctx.strokeRect(a.left, a.top, a.right - a.left, a.bottom - a.top);
    const b = c.box;
    ctx.fillStyle = '#fff'; ctx.fillRect(a.left + b[0], a.top + b[1], b[2], b[3]);
    ctx.strokeStyle = '#3a3a3a'; ctx.lineWidth = 1; ctx.strokeRect(a.left + b[0] + 0.5, a.top + b[1] + 0.5, b[2], b[3]);
    drawRich(ctx, a.left + c.text.x, a.top + c.text.y, c.text.parts, c.text.w);
    if (c.tlabel) {
      ctx.fillStyle = '#262626'; ctx.font = "22px 'Liberation Sans', Arial, sans-serif";
      ctx.textAlign = 'center'; ctx.textBaseline = 'middle';
      ctx.fillText('t(s)', xs.getPixelForValue(c.tlabel), a.bottom + 31);
    }
    ctx.restore();
  }
};

function makePanel(id, c) {
  decorCfg[id] = c;
  return new Chart(document.getElementById(id), {
    type: 'scatter',
    data: {datasets: c.datasets},
    options: {
      responsive: false, animation: false, events: [],
      layout: {padding: {left: 0, right: 15, top: c.padTop, bottom: c.padBottom}},
      plugins: {legend: {display: false}, tooltip: {enabled: false}},
      scales: {
        x: {type: 'linear', min: 3.2, max: 4.0, position: c.xPos || 'bottom', display: !!c.xPos,
            afterBuildTicks: s => { s.ticks = xTicks.map(v => ({value: v})); },
            afterFit: s => { if (c.xPos) s.height = c.xHeight; s.paddingLeft = 0; s.paddingRight = 0; },
            grid: {display: false, drawTicks: false}, border: {display: false},
            ticks: {autoSkip: false, maxRotation: 0, minRotation: 0, padding: c.xPad || 0, color: '#262626', font: {size: 22},
                    callback: v => (Math.abs(v - 4) < 1e-9 ? '4' : v.toFixed(1))}},
        y: {type: 'linear', min: c.yMin, max: c.yMax,
            afterBuildTicks: s => { s.ticks = c.yTicks.map(v => ({value: v})); },
            afterFit: s => { s.width = 107; s.paddingTop = 0; s.paddingBottom = 0; },
            grid: {display: false, drawTicks: false}, border: {display: false},
            ticks: {autoSkip: false, padding: 8, color: '#262626', font: {size: 22},
                    callback: v => (c.yLabels.includes(v) ? String(v) : '')},
            title: {display: !!c.yTitle, text: c.yTitle || '', color: '#262626', font: {size: 24}, padding: {top: c.titlePad || 0, bottom: 0}}}
      }
    },
    plugins: [decor]
  });
}

makePanel('c1', {padTop: 0, padBottom: 1, xPos: 'top', xHeight: 43, xPad: 14,
  yMin: 2.1270, yMax: 2.1535, yTicks: [2.13, 2.14, 2.15], yLabels: [2.13, 2.14, 2.15], yTitle: 'm', titlePad: 3.6,
  box: [12, 6, 94, 52], text: {x: 25, y: 41.5, w: 49, parts: [{t: 'R', f: it(25)}, {t: 'out', f: it(17), dy: 4}]},
  datasets: [lineDs(pairs(rout), '#000', 1, 1)]});

makePanel('c2', {padTop: 1, padBottom: 1,
  yMin: -8.64, yMax: 2.72, yTicks: [-8, -6, -4, -2, 0, 2], yLabels: [-6, -2, 2], yTitle: 'mm', titlePad: 32.6,
  box: [12, 7, 93, 51], text: {x: 25, y: 37.7, w: 48, parts: [{t: 'Z', f: it(25)}, {t: 'geo', f: it(17), dy: 4}]},
  datasets: [lineDs(pairs(zgeo), '#000', 1, 1)]});

makePanel('c3', {padTop: 1, padBottom: 1,
  yMin: -4.6, yMax: 17.0, yTicks: [0, 5, 10, 15], yLabels: [0, 10], yTitle: 'A × 10³', titlePad: 25.6,
  box: [12, 6.7, 218, 52], text: {x: 24, y: 38.3, w: 174, parts: [{t: 'ELM monitor', f: rm(26)}]},
  datasets: [lineDs(pairs(elmRed), '#ff0000', 1.1, 1), lineDs(pairs(elmGreen), '#22ee22', 1.1, 2), lineDs(pairs(elmSignal), '#000', 1.1, 3)]});

makePanel('c4', {padTop: 1, padBottom: 1,
  yMin: 4.067, yMax: 4.807, yTicks: [4.2, 4.4, 4.6], yLabels: [4.2, 4.6], yTitle: 'J × 10⁵', titlePad: 22.6,
  box: [12, 6, 130, 52], text: {x: 26, y: 35.5, w: 85, parts: [{t: 'W', f: it(25)}, {t: 'MHD', f: it(17), dy: 4}]},
  datasets: [lineDs(pairs(wmhd), '#000', 1, 1)]});

makePanel('c5', {padTop: 7, padBottom: 1,
  yMin: -4.9, yMax: 1.26, yTicks: [-4, -2, 0], yLabels: [-4, -2, 0], yTitle: 'A × 10⁴', titlePad: 30.6,
  box: [12, 6, 72, 53], text: {x: 25, y: 39.3, w: 26.4, parts: [{t: 'I', f: it(25)}, {t: 'u', f: it(17), dy: -12, stack: true}, {t: 'C', f: it(17), dy: 7}]},
  datasets: [
    dotDs(pts(p5RedT, p5RedFilled), '#ff0000', true, 1),
    dotDs(pts(p5BlueT, p5BlueFilled), '#0000ff', true, 2),
    dotDs(pts(p5RedT, p5RedOpen), '#ff0000', false, 3),
    dotDs(pts(p5BlueT, p5BlueOpen), '#0000ff', false, 4),
    lineDs(pairs(icRedLine), '#ff0000', 1, 5),
    lineDs(pairs(icSignal), '#000', 1, 6)]});

makePanel('c6', {padTop: 13, padBottom: 0, xPos: 'bottom', xHeight: 54, xPad: 18, tlabel: 3.9545,
  yMin: PHI_MIN, yMax: PHI_MAX, yTicks: [-2, 0, 2], yLabels: [-2, 0, 2], yTitle: '', titlePad: 0,
  box: [12, 6.7, 112.5, 51.6], text: {x: 24, y: 40.7, w: 68, parts: [{t: 'ϕ', f: it(25)}, {t: '(', f: rm(25)}, {t: 'I', f: it(25)}, {t: 'u', f: it(17), dy: -12, stack: true}, {t: 'C', f: it(17), dy: 7}, {t: ')', f: rm(25)}]},
  datasets: [
    dotDs(pts(p6RedT, p6RedFilled), '#ff0000', true, 1),
    dotDs(pts(p6BlueT, p6BlueFilled), '#0000ff', true, 2),
    dotDs(pts(p6RedT, p6RedOpen), '#ff0000', false, 3),
    dotDs(pts(p6BlueT, p6BlueOpen), '#0000ff', false, 4),
    lineDs(rampData, '#333', 0.7, 5),
    Object.assign(lineDs(dotLineData, '#888', 0.8, 6), {borderDash: [1, 2]})]});
</script>
</body></html>
